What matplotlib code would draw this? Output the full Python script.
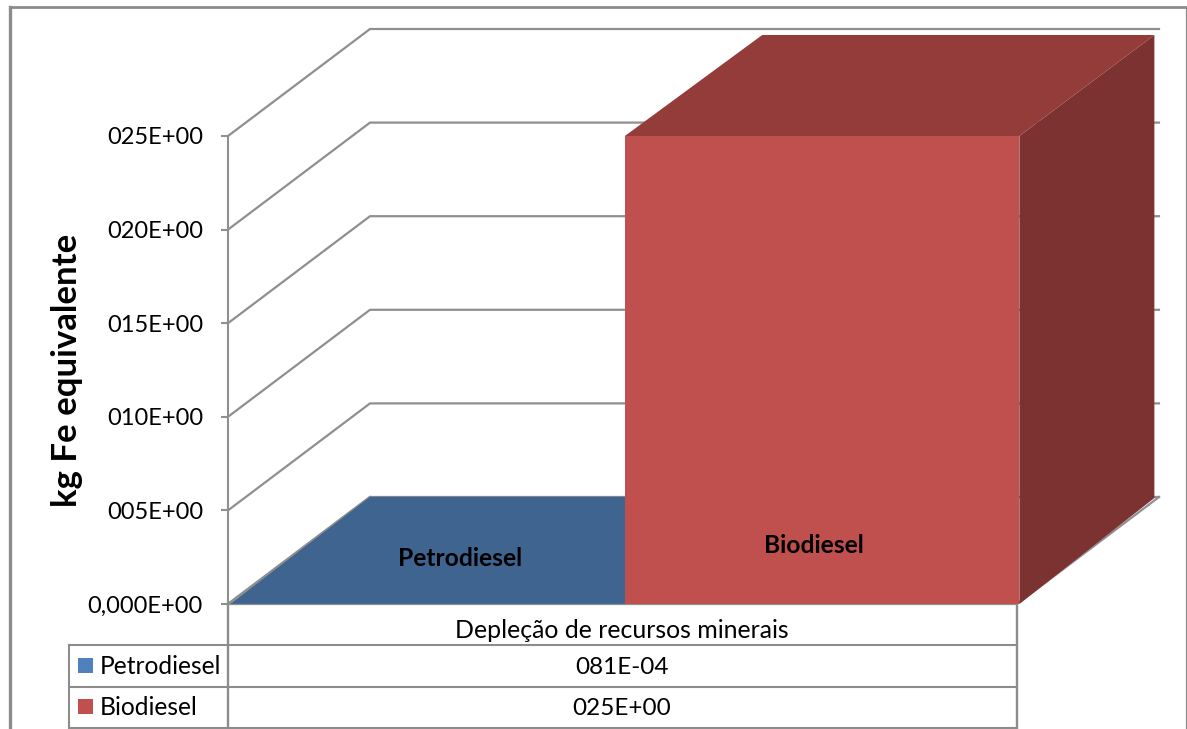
import matplotlib
matplotlib.use("Agg")
import matplotlib.pyplot as plt
from matplotlib.patches import Polygon, Rectangle

W, H = 1187, 729

series_names = ["Petrodiesel", "Biodiesel"]
series_values = [0.0081, 25.0]
value_labels = ["081E-04", "025E+00"]
series_colors = ["#4f81bd", "#c0504d"]
top_colors = ["#3f648f", "#943c3a"]
side_colors = ["#2f4b6e", "#7b3230"]
category = "Depleção de recursos minerais"
y_ticks = [0, 5, 10, 15, 20, 25]
y_tick_labels = ["0,000E+00", "005E+00", "010E+00", "015E+00", "020E+00", "025E+00"]
y_title = "kg Fe equivalente"

GRID = "#8f8f8f"
plt.rcParams["font.family"] = ["Lato", "DejaVu Sans"]

fig = plt.figure(figsize=(W / 100, H / 100), dpi=100, facecolor="white")

# overlay in pixel units for the page frame and the data table
page = fig.add_axes([0, 0, 1, 1])
page.set_xlim(0, W)
page.set_ylim(H, 0)
page.axis("off")

page.plot([9.5, 9.5], [H, 6.5], color="#8c8c8c", lw=2.4)
page.plot([9.5, 1186], [6.5, 6.5], color="#8c8c8c", lw=2.0)
page.plot([1186, 1186], [6.5, H], color="#8c8c8c", lw=0.9)

# plot area: x runs over the category, y over the value axis
ax = fig.add_axes([228 / W, (H - 604) / H, 789 / W, 468 / H])
ax.patch.set_visible(False)
ax.set_xlim(0, 1)
ax.set_ylim(0, 25)
for s in ["top", "right", "bottom"]:
    ax.spines[s].set_visible(False)
ax.spines["left"].set_color(GRID)
ax.spines["left"].set_linewidth(1.5)
ax.set_xticks([])
ax.set_yticks(y_ticks)
ax.set_yticklabels(y_tick_labels, fontsize=17)
ax.tick_params(axis="y", length=5, width=1.5, color=GRID, pad=13, labelcolor="black")
ax.set_ylabel(y_title, fontsize=25, fontweight="bold")
ax.yaxis.set_label_coords(-145 / 789, 0.5)

# depth of the 3D box, as offsets in data units
depth_x = 142 / 789
depth_y = 107 / 468 * 25
bar_depth_x = 135 / 789
bar_top_depth_y = 101 / 468 * 25
bar_base_depth_y = 106 / 468 * 25

# walls: diagonal on the left side, horizontal along the back
for t in y_ticks:
    ax.plot([0, depth_x, 1 + depth_x], [t, t + depth_y, t + depth_y],
            color=GRID, lw=1.6, clip_on=False, zorder=1, solid_joinstyle="miter")
ax.plot([0, 1, 1 + depth_x], [0, 0, depth_y], color=GRID, lw=1.6, clip_on=False, zorder=1)
ax.plot([0, depth_x], [0, depth_y], color=GRID, lw=1.6, clip_on=False, zorder=1)

# bars as front, top and side faces, left to right
n = len(series_values)
shift = 0.003
for i, v in enumerate(series_values):
    x0 = i / n + shift
    x1 = (i + 1) / n + shift
    if v > 1:
        side = [(x1, 0), (x1, v), (x1 + bar_depth_x, v + bar_top_depth_y),
                (x1 + bar_depth_x, bar_base_depth_y)]
        top = [(x0, v), (x1, v), (x1 + bar_depth_x, v + bar_top_depth_y),
               (x0 + bar_depth_x + 0.003, v + bar_top_depth_y)]
    else:
        # nearly flat bar: the top face takes up the whole floor
        side = [(x1, 0), (x1, v), (x1 + depth_x, v + depth_y), (x1 + depth_x, depth_y)]
        top = [(x0, v), (x1, v), (x1 + depth_x, v + depth_y), (x0 + depth_x - 0.003, v + depth_y)]
    ax.add_patch(Polygon(side, closed=True, fc=side_colors[i], ec="none", clip_on=False, zorder=2 + i))
    ax.add_patch(Polygon(top, closed=True, fc=top_colors[i], ec="none", clip_on=False, zorder=2 + i))
    ax.add_patch(Rectangle((x0, 0), x1 - x0, v, fc=series_colors[i], ec="none",
                           clip_on=False, zorder=2 + i))

# data labels naming each series
ax.text(0.294, 2.45, series_names[0], fontsize=17.7, fontweight="bold", ha="center", va="center", zorder=6)
ax.text(0.743, 3.15, series_names[1], fontsize=17.7, fontweight="bold", ha="center", va="center", zorder=6)

# data table under the axis
TAB = "#8c8c8c"
page.plot([228, 228], [604, 728], color=TAB, lw=1.7)
page.plot([1016.5, 1016.5], [604, 728], color=TAB, lw=1.7)
page.plot([69, 69], [645, 728], color=TAB, lw=1.5)
for y in [645, 687, 728]:
    page.plot([69, 1016.5], [y, y], color=TAB, lw=1.5)

page.text(622, 638, category, fontsize=17.9, ha="center", va="baseline")
row_base = [674, 715]
for name, label, col, y in zip(series_names, value_labels, series_colors, row_base):
    page.add_patch(Rectangle((78, y - 16), 15, 15, fc=col, ec="none"))
    page.text(100, y, name, fontsize=17.7, ha="left", va="baseline")
    page.text(622, y, label, fontsize=17.5, ha="center", va="baseline")

fig.savefig("out.png", dpi=100)
